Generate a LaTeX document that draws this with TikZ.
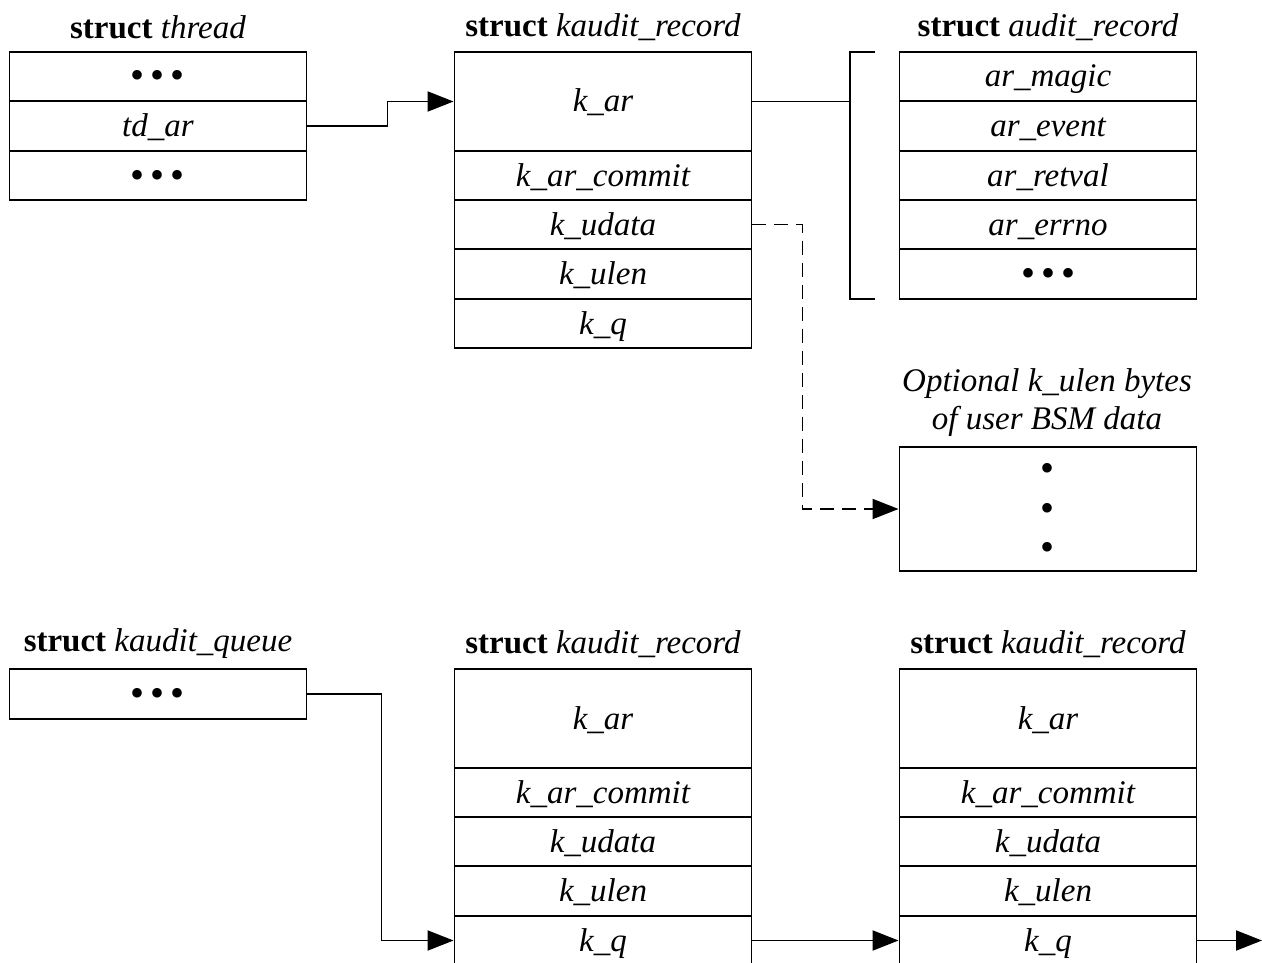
\documentclass[tikz,border=0pt]{standalone}
\usepackage{fontspec}
\setmainfont{Liberation Serif}
\usetikzlibrary{arrows.meta}
\newcommand\mydots{\raisebox{-2pt}{\fontsize{40}{40}\selectfont\upshape •\kern6pt•\kern6pt•}}
\begin{document}
\begin{tikzpicture}[x=1pt,y=-1pt,line width=1.9pt,
  cell/.style={draw, rectangle, minimum width=297pt, minimum height=#1, inner sep=0pt,
    text height=25pt, text depth=4pt,
    font=\fontsize{33}{38}\selectfont\itshape},
  cell/.default=49.5pt,
  hdr/.style={inner sep=0pt, font=\fontsize{33}{38}\selectfont},
  arr/.style={-{Triangle[length=26pt,width=20pt]}},
  dsh/.style={dash pattern=on 14pt off 8pt}]
\useasboundingbox (0,0) rectangle (1262,963);
\clip (0,0) rectangle (1262,963);
% struct thread
\node[hdr] (hthr) at (158,27) {\textbf{struct} \textit{thread}};
\node[cell] (t1) at (158,76.5) {\mydots};
\node[cell] (t2) at (158,126) {td\_ar};
\node[cell] (t3) at (158,175.5) {\mydots};
% struct kaudit_record (top)
\node[hdr] (hkr1) at (603,27) {\textbf{struct} \textit{kaudit\_record}};
\node[cell=99pt] (kar1) at (603,101.5) {k\_ar};
\node[cell] (kac1) at (603,175.5) {k\_ar\_commit};
\node[cell] (kud1) at (603,224.5) {k\_udata};
\node[cell] (kul1) at (603,274) {k\_ulen};
\node[cell] (kq1) at (603,323.5) {k\_q};
% struct audit_record
\node[hdr] (har) at (1048,27) {\textbf{struct} \textit{audit\_record}};
\node[cell] (a1) at (1048,76.5) {ar\_magic};
\node[cell] (a2) at (1048,126) {ar\_event};
\node[cell] (a3) at (1048,175.5) {ar\_retval};
\node[cell] (a4) at (1048,224.5) {ar\_errno};
\node[cell] (a5) at (1048,274) {\mydots};
% bracket
\coordinate (bt) at (875,52);
\coordinate (btl) at (850,52);
\coordinate (bm) at (850,101.5);
\coordinate (bbl) at (850,299);
\coordinate (bb) at (875,299);
\draw (bt) -- (btl) -- (bbl) -- (bb);
\draw (kar1.east) -- (bm);
% optional data
\node[inner sep=0pt, align=center, font=\fontsize{33}{38}\selectfont\itshape] (optl) at (1047,403) {Optional k\_ulen bytes\\of user BSM data};
\node[draw, rectangle, minimum width=297pt, minimum height=124pt, inner sep=0pt] (opt) at (1048,509) {};
\node[inner sep=0pt, align=center, font=\fontsize{40}{39.5}\selectfont] (vd) at (1047,512) {•\\•\\•};
% connectors top
\draw[arr] (t2.east) -- ++(80,0) |- (kar1.west);
\draw[arr, dsh] (kud1.east) -- ++(50,0) |- (opt.west);
% struct kaudit_queue
\node[hdr] (hq) at (158,644) {\textbf{struct} \textit{kaudit\_queue}};
\node[cell] (q1) at (158,694) {\mydots};
% kaudit_record 2
\node[hdr] (hkr2) at (603,644) {\textbf{struct} \textit{kaudit\_record}};
\node[cell=99pt] (kar2) at (603,718.5) {k\_ar};
\node[cell] (kac2) at (603,792.5) {k\_ar\_commit};
\node[cell] (kud2) at (603,841.5) {k\_udata};
\node[cell] (kul2) at (603,891) {k\_ulen};
\node[cell] (kq2) at (603,940.5) {k\_q};
% kaudit_record 3
\node[hdr] (hkr3) at (1048,644) {\textbf{struct} \textit{kaudit\_record}};
\node[cell=99pt] (kar3) at (1048,718.5) {k\_ar};
\node[cell] (kac3) at (1048,792.5) {k\_ar\_commit};
\node[cell] (kud3) at (1048,841.5) {k\_udata};
\node[cell] (kul3) at (1048,891) {k\_ulen};
\node[cell] (kq3) at (1048,940.5) {k\_q};
\coordinate (nxt) at (1262,940.5);
% connectors bottom
\draw[arr] (q1.east) -- ++(74,0) |- (kq2.west);
\draw[arr] (kq2.east) -- (kq3.west);
\draw[arr] (kq3.east) -- (nxt);
\end{tikzpicture}
\end{document}
